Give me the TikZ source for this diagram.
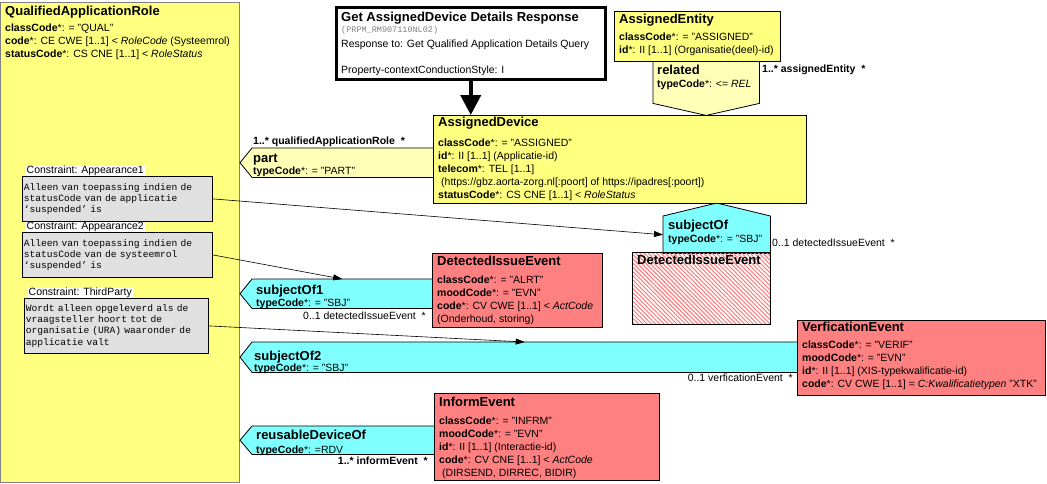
\documentclass[tikz,border=0pt]{standalone}
\usepackage{fontspec}
\setmainfont{Liberation Sans}
\setmonofont{Liberation Mono}
\usepackage{tikz}
\usetikzlibrary{positioning,patterns.meta,arrows.meta}
\definecolor{roleyellow}{RGB}{255,255,128}
\definecolor{assocyellow}{RGB}{255,255,184}
\definecolor{actred}{RGB}{255,128,128}
\definecolor{assoccyan}{RGB}{128,255,255}
\definecolor{notegray}{RGB}{224,224,224}
\newcommand\clsfont{\fontsize{13}{15}\selectfont\bfseries}
\newcommand\attfont{\fontsize{10.5}{13}\selectfont}
\newcommand\notefont{\fontsize{9.6}{11.2}\selectfont\ttfamily}
\tikzset{%
	class-box/.style={
		draw,
		line width=0.8pt,
		anchor=north west,
		inner sep=0pt
	},
	class-role/.style={ fill=roleyellow },
	class-act/.style={ fill=actred },
	class-ref/.style={ pattern={Lines[angle=-45,distance=3pt,line width=1.1pt]}, pattern color=actred },
	class-title/.style={ anchor=base west, inner sep=0pt, font=\clsfont },
	class-attr/.style={ anchor=north west, inner sep=0pt, align=left, font=\attfont },
	assoc-body/.style={ anchor=north west, inner sep=0pt },
	assoc/.style={ draw, line width=0.8pt, line join=miter },
	card/.style={ inner sep=0pt, font=\attfont },
	note-box/.style={
		draw,
		fill=notegray,
		line width=0.8pt,
		anchor=north west,
		align=left,
		font=\notefont,
		inner xsep=1.5pt,
		inner ysep=0pt
	},
	note-label/.style={ fill=white, inner xsep=1.5pt, inner ysep=0pt, anchor=south west, font=\fontsize{10.5}{12}\selectfont },
	response-box/.style={ draw, line width=2.5pt, fill=white, anchor=north west, inner sep=0pt },
}

\begin{document}
\begin{tikzpicture}[x=1pt, y=-1pt, >={Triangle[length=9pt,width=6pt]}]
\useasboundingbox (0,0) rectangle (1047,483);

% role that holds everything
\node[class-box, class-role, draw=gray, minimum width=239pt, minimum height=480pt] (qar) at (0,2) {};

% associations
\foreach \a/\x/\y/\w/\h in {part/252/148/181/29, subjectOf1/252/279/180/29, subjectOf2/252/342/545/30,
		reusableDeviceOf/252/426/182/28, related/653/61/106/42, subjectOf/663/216/107/37}
	\node[assoc-body, minimum width=\w pt, minimum height=\h pt] (\a) at (\x,\y) {};
\foreach \a/\c in {part/assocyellow, subjectOf1/assoccyan, subjectOf2/assoccyan, reusableDeviceOf/assoccyan}
	\draw[assoc, fill=\c] (\a.north east) -- (\a.north west) -- ([xshift=-12pt]\a.west) -- (\a.south west) -- (\a.south east) -- cycle;
\draw[assoc, fill=assocyellow] (related.north west) -- (related.south west) -- ([yshift=-12pt]related.south) -- (related.south east) -- (related.north east) -- cycle;
\draw[assoc, fill=assoccyan] (subjectOf.south west) -- (subjectOf.north west) -- ([yshift=13pt]subjectOf.north) -- (subjectOf.north east) -- (subjectOf.south east) -- cycle;

% classes
\node[response-box, minimum width=269pt, minimum height=72pt] (response) at (335,6) {};
\node[class-box, class-role, minimum width=166pt, minimum height=50pt] (entity) at (614,11) {};
\node[class-box, class-role, minimum width=373pt, minimum height=88pt] (device) at (433,115) {};
\node[class-box, class-act, minimum width=170pt, minimum height=74pt] (issue) at (432,253) {};
\node[class-box, class-ref, minimum width=138pt, minimum height=72pt] (issue-ref) at (632,252) {};
\node[class-box, class-act, minimum width=248pt, minimum height=75pt] (verification) at (797,320) {};
\node[class-box, class-act, minimum width=225pt, minimum height=87pt] (inform) at (434,393) {};

% class labels
\node[class-title] (qar-title) at (5,15.5) {QualifiedApplicationRole};
\node[class-attr] (qar-attr) at (5,24) {\textbf{classCode}*: = "QUAL"\\ \textbf{code}*: CE CWE [1..1] < \textit{RoleCode} (Systeemrol)\\ \textbf{statusCode}*: CS CNE [1..1] < \textit{RoleStatus}};

\node[class-title] (response-title) at (341,21.5) {Get AssignedDevice Details Response};
\node[anchor=north west, inner sep=0pt, font=\fontsize{8.5}{10}\selectfont\ttfamily, text=gray] (response-id) at (341,26) {(PRPM\_RM907110NL02)};
\node[class-attr] (response-text) at (341,40) {Response to: Get Qualified Application Details Query\\[13pt] Property-contextConductionStyle: I};

\node[class-title] (entity-title) at (619,23.5) {AssignedEntity};
\node[class-attr] (entity-attr) at (619,33) {\textbf{classCode}*: = "ASSIGNED"\\ \textbf{id}*: II [1..1] (Organisatie(deel)-id)};

\node[class-title] (device-title) at (438,126.5) {AssignedDevice};
\node[class-attr] (device-attr) at (438,139) {\textbf{classCode}*: = "ASSIGNED"\\ \textbf{id}*: II [1..1] (Applicatie-id)\\ \textbf{telecom}*: TEL [1..1]\\ \hspace{3pt}(https://gbz.aorta-zorg.nl[:poort] of https://ipadres[:poort])\\ \textbf{statusCode}*: CS CNE [1..1] < \textit{RoleStatus}};

\node[class-title] (issue-title) at (437,265.5) {DetectedIssueEvent};
\node[class-attr] (issue-attr) at (437,276) {\textbf{classCode}*: = "ALRT"\\ \textbf{moodCode}*: = "EVN"\\ \textbf{code}*: CV CWE [1..1] < \textit{ActCode}\\ (Onderhoud, storing)};

\node[class-title] (issue-ref-title) at (637,264.5) {DetectedIssueEvent};

\node[class-title] (verification-title) at (802,331.5) {VerficationEvent};
\node[class-attr] (verification-attr) at (802,341) {\textbf{classCode}*: = "VERIF"\\ \textbf{moodCode}*: = "EVN"\\ \textbf{id}*: II [1..1] (XIS-typekwalificatie-id)\\ \textbf{code}*: CV CWE [1..1] = \textit{C:Kwalificatietypen} "XTK"};

\node[class-title] (inform-title) at (439,406) {InformEvent};
\node[class-attr] (inform-attr) at (439,417) {\textbf{classCode}*: = "INFRM"\\ \textbf{moodCode}*: = "EVN"\\ \textbf{id}*: II [1..1] (Interactie-id)\\ \textbf{code}*: CV CNE [1..1] < \textit{ActCode}\\ \hspace{3pt}(DIRSEND, DIRREC, BIDIR)};

% association labels
\node[class-title] (part-name) at (253,162) {part};
\node[card, anchor=base west] (part-type) at (253,174) {\textbf{typeCode}*: = "PART"};
\node[class-title] (related-name) at (657,74.5) {related};
\node[card, anchor=base west] (related-type) at (657,87) {\textbf{typeCode}*: <= \textit{REL}};
\node[class-title] (subjectOf-name) at (668,229.5) {subjectOf};
\node[card, anchor=base west] (subjectOf-type) at (668,242.5) {\textbf{typeCode}*: = "SBJ"};
\node[class-title] (subjectOf1-name) at (256,294.5) {subjectOf1};
\node[card, anchor=base west] (subjectOf1-type) at (256,306) {\textbf{typeCode}*: = "SBJ"};
\node[class-title] (subjectOf2-name) at (254,360) {subjectOf2};
\node[card, anchor=base west] (subjectOf2-type) at (254,371) {\textbf{typeCode}*: = "SBJ"};
\node[class-title] (reusableDeviceOf-name) at (256,439.5) {reusableDeviceOf};
\node[card, anchor=base west] (reusableDeviceOf-type) at (256,453) {\textbf{typeCode}*: =RDV};

% cardinalities
\node[card, anchor=base west, font=\attfont\bfseries] (part-card) at (253,144) {1..* qualifiedApplicationRole~~*};
\node[card, anchor=base west, font=\attfont\bfseries] (related-card) at (762,72) {1..* assignedEntity~~*};
\node[card, anchor=base west] (subjectOf-card) at (772,246.5) {0..1 detectedIssueEvent~~*};
\node[card, anchor=base east] (subjectOf1-card) at (426,319.5) {0..1 detectedIssueEvent~~*};
\node[card, anchor=base east] (subjectOf2-card) at (793,381.5) {0..1 verficationEvent~~*};
\node[card, anchor=base east, font=\attfont\bfseries] (reusableDeviceOf-card) at (428,464.5) {1..* informEvent~~*};

% constraints
\node[note-box, minimum width=190pt, minimum height=45pt, text width=187pt] (note1) at (22,176) {Alleen van toepassing indien de\\ statusCode van de applicatie\\ ‘suspended’ is};
\node[note-box, minimum width=190pt, minimum height=45pt, text width=187pt] (note2) at (22,232) {Alleen van toepassing indien de\\ statusCode van de systeemrol\\ ‘suspended’ is};
\node[note-box, minimum width=184pt, minimum height=55pt, text width=181pt] (note3) at (24,298) {Wordt alleen opgeleverd als de\\ vraagsteller hoort tot de\\ organisatie (URA) waaronder de\\ applicatie valt};
\foreach \n/\l in {note1/Appearance1, note2/Appearance2, note3/ThirdParty}
	\node[note-label] (\n-label) at ([xshift=3pt]\n.north west) {Constraint: \l};

% connections
\draw[line width=4pt, -{Triangle[length=20pt,width=20pt]}] (response.south) -- (response.south |- device.north);
\foreach \n/\t in {note1/subjectOf.west, note2/subjectOf1.north, note3/subjectOf2.north}
	\draw[->, line width=0.6pt] (\n.east) -- (\t);

\end{tikzpicture}
\end{document}
